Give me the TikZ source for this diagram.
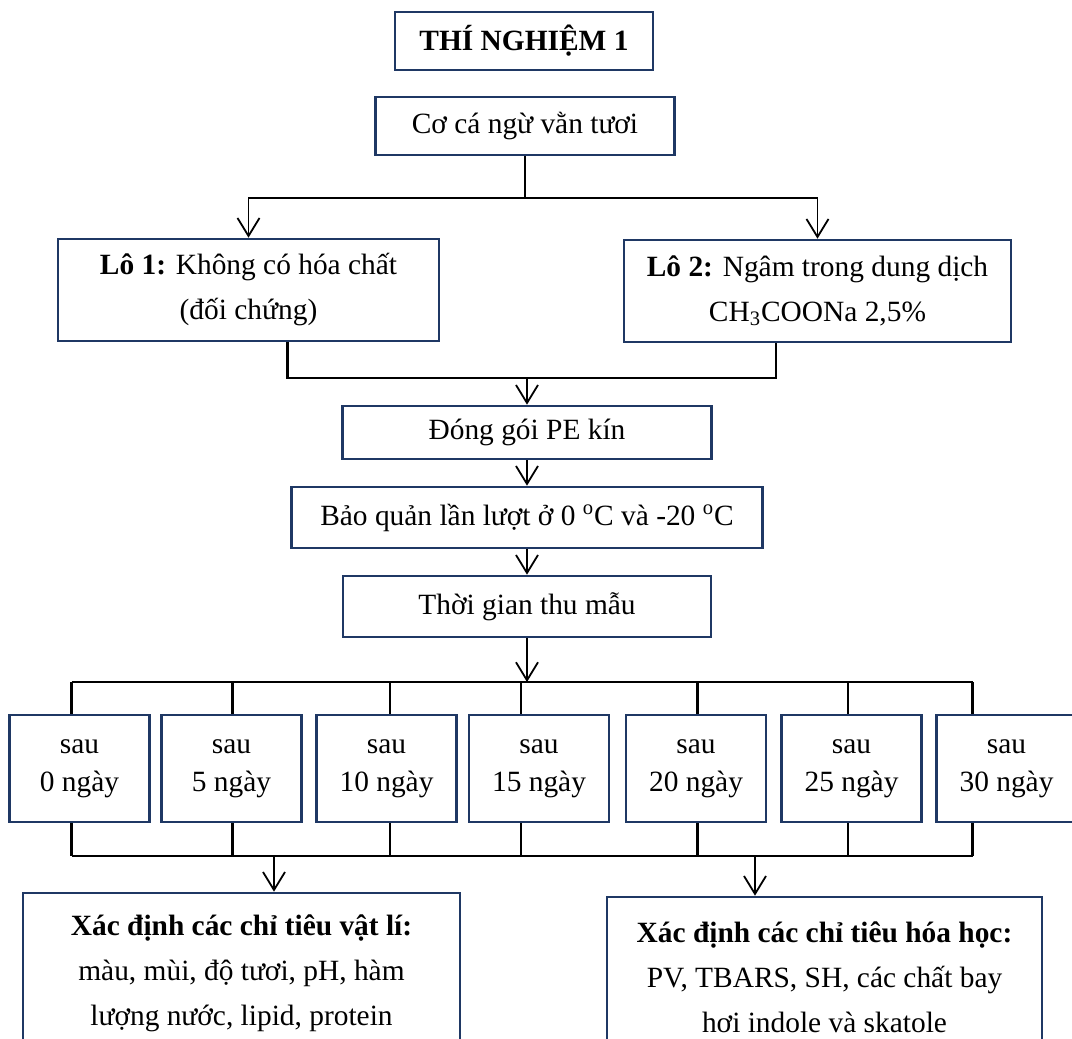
\documentclass[tikz,border=0pt]{standalone}
\usepackage{fontspec}
\setmainfont{Liberation Serif}
\usepackage{tikz}
\usetikzlibrary{arrows.meta, calc}
\definecolor{boxnavy}{RGB}{31,56,100}
\tikzset{
  stepbox/.style={
    draw=boxnavy, line width=1.3pt, align=center, fill=white,
    inner sep=0pt, font=\fontsize{14.7}{22.5}\selectfont
  },
  daybox/.style={
    stepbox, font=\fontsize{14.7}{19}\selectfont,
    minimum width=70pt, minimum height=53.5pt
  },
  link/.style={line width=1.2pt},
  flowarrow/.style={-{Straight Barb[length=9pt, width=11pt]}, line width=0.9pt},
}

\begin{document}
\begin{tikzpicture}[x=0.5pt, y=-0.5pt]
  \useasboundingbox (0,0) rectangle (1072,1039);
  \clip (0,0) rectangle (1072,1039);

  % === Title ===
  \node[stepbox, minimum width=129pt, minimum height=29pt, font=\fontsize{14.7}{22.5}\selectfont\bfseries] (title) at (524,41)
    {THÍ NGHIỆM 1};

  % === Raw material and the two lots ===
  \node[stepbox, minimum width=149.5pt, minimum height=29pt] (raw) at (525,126) {Cơ cá ngừ vằn tươi};

  \node[stepbox, minimum width=190.5pt, minimum height=51pt] (lot1) at (248.5,290)
    {\textbf{Lô 1:} Không có hóa chất\\(đối chứng)};
  \node[stepbox, minimum width=193.5pt, minimum height=51pt] (lot2) at (817.5,291)
    {\textbf{Lô 2:} Ngâm trong dung dịch\\CH\textsubscript{3}COONa 2,5\%};

  \coordinate (split) at (525,198);
  \draw[link] (raw.south) -- (split);
  \draw[flowarrow] (split) -| (lot1.north);
  \draw[flowarrow] (split) -| (lot2.north);

  % === Processing chain ===
  \node[stepbox, minimum width=184.5pt, minimum height=26.5pt] (pack) at (527,432.5) {Đóng gói PE kín};
  \node[stepbox, minimum width=235.5pt, minimum height=30.5pt] (store) at (527,517.5)
    {Bảo quản lần lượt ở 0 \textsuperscript{o}C và -20 \textsuperscript{o}C};
  \node[stepbox, minimum width=184pt, minimum height=30.5pt] (sample) at (527,606.5) {Thời gian thu mẫu};

  \coordinate (merge) at (527,378);
  \draw[link] ([xshift=19.5pt]lot1.south) |- (merge) -| ([xshift=-20.75pt]lot2.south);
  \draw[flowarrow] (merge) -- (pack.north);
  \draw[flowarrow] (pack.south) -- (store.north);
  \draw[flowarrow] (store.south) -- (sample.north);

  % === Sampling days ===
  \foreach \d/\cx in {0/79.5, 5/231.5, 10/386.5, 15/539, 20/696, 25/851.5, 30/1006.5}
    \node[daybox] (d\d) at (\cx,768.5) {sau\\\d{} ngày};

  \coordinate (bus1) at (527,682);
  \coordinate (bus2) at (527,856);
  \draw[flowarrow] (sample.south) -- (bus1);
  \draw[link] ([xshift=-4pt]d0.north |- bus1) -- ([xshift=-17pt]d30.north |- bus1);
  \draw[link] ([xshift=-4pt]d0.south |- bus2) -- ([xshift=-17pt]d30.south |- bus2);
  \foreach \d/\dx in {0/-4, 5/0.5, 10/1.75, 15/-9, 20/0.75, 25/-1.75, 30/-17} {
    \draw[link] ([xshift=\dx pt]d\d.north) -- ([xshift=\dx pt]d\d.north |- bus1);
    \draw[link] ([xshift=\dx pt]d\d.south) -- ([xshift=\dx pt]d\d.south |- bus2);
  }

  % === Analyses ===
  \node[stepbox, minimum width=218.5pt, minimum height=80pt] (phys) at (241.5,973)
    {\textbf{Xác định các chỉ tiêu vật lí:}\\màu, mùi, độ tươi, pH, hàm\\lượng nước, lipid, protein};
  \node[stepbox, minimum width=217.5pt, minimum height=80pt] (chem) at (824.5,977)
    {\textbf{Xác định các chỉ tiêu hóa học:}\\PV, TBARS, SH, các chất bay\\hơi indole và skatole};

  \draw[flowarrow] ([xshift=16.25pt]phys.north |- bus2) -- ([xshift=16.25pt]phys.north);
  \draw[flowarrow] ([xshift=-34.75pt]chem.north |- bus2) -- ([xshift=-34.75pt]chem.north);

\end{tikzpicture}
\end{document}
